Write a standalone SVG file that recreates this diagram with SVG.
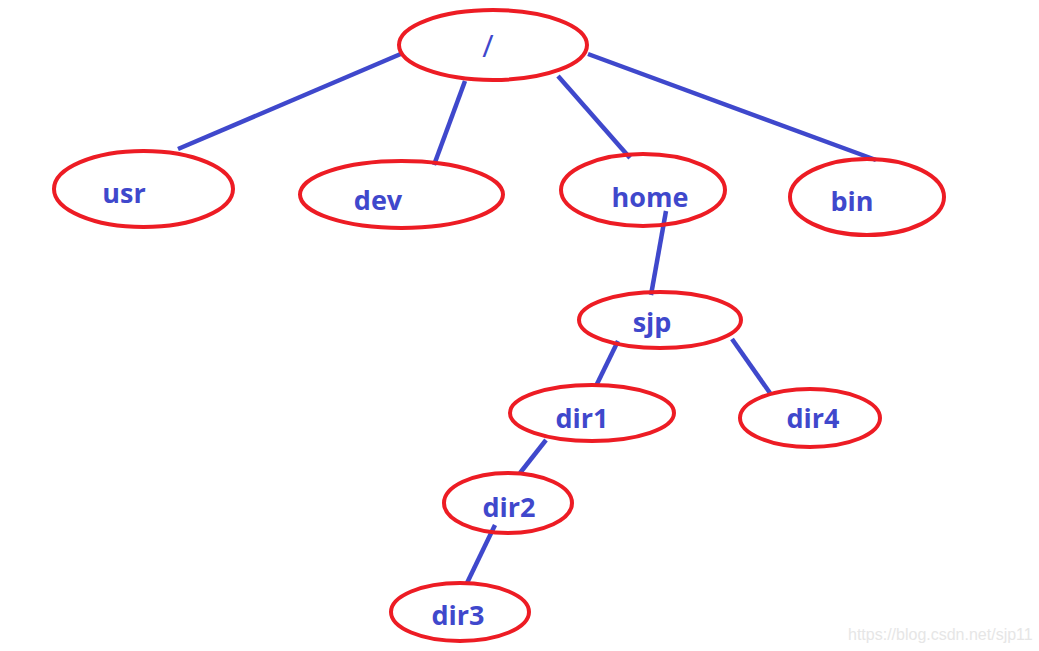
<svg xmlns="http://www.w3.org/2000/svg" width="1039" height="651" viewBox="0 0 1039 651">
<style>
.n{fill:none;stroke:#ED1C24;stroke-width:4}
.t{font-family:"Open Sans","Noto Sans","Liberation Sans",sans-serif;font-weight:bold;font-size:27px;fill:#3F48CC;text-anchor:middle}
.e line{stroke:#3F48CC;stroke-width:4.5;stroke-linecap:butt}
.w{font-family:"Liberation Sans",Arial,sans-serif;font-size:16px;fill:#e6e6e6}
</style>
<rect width="1039" height="651" fill="#ffffff"/>
<g id="connectors" class="e">
<line x1="403" y1="53" x2="178" y2="149"/>
<line x1="465" y1="81" x2="434" y2="165"/>
<line x1="558" y1="76" x2="630" y2="158"/>
<line x1="588" y1="54" x2="876" y2="160"/>
<line x1="666" y1="211" x2="651" y2="295"/>
<line x1="618" y1="341" x2="596" y2="386"/>
<line x1="732" y1="339" x2="770" y2="393"/>
<line x1="546" y1="440" x2="520" y2="473"/>
<line x1="495" y1="525" x2="467" y2="583"/>
</g>
<g id="root"><ellipse class="n" cx="493" cy="45" rx="94" ry="35"/><text class="t" x="488" y="57" style="font-weight:normal;font-size:31px">/</text></g>
<g id="usr"><ellipse class="n" cx="143.5" cy="189" rx="89.5" ry="38"/><text class="t" x="124" y="203">usr</text></g>
<g id="dev"><ellipse class="n" cx="401.5" cy="194.5" rx="101.5" ry="33.5"/><text class="t" x="378" y="210">dev</text></g>
<g id="home"><ellipse class="n" cx="643" cy="190" rx="82" ry="36"/><text class="t" x="650" y="207">home</text></g>
<g id="bin"><ellipse class="n" cx="867" cy="197" rx="77" ry="38"/><text class="t" x="852" y="211">bin</text></g>
<g id="sjp"><ellipse class="n" cx="660" cy="320" rx="81" ry="28"/><text class="t" x="652" y="332">sjp</text></g>
<g id="dir1"><ellipse class="n" cx="592" cy="413" rx="82" ry="28"/><text class="t" x="582" y="428">dir1</text></g>
<g id="dir4"><ellipse class="n" cx="810" cy="418" rx="70" ry="29"/><text class="t" x="813" y="428">dir4</text></g>
<g id="dir2"><ellipse class="n" cx="508" cy="503" rx="64" ry="30"/><text class="t" x="509" y="517">dir2</text></g>
<g id="dir3"><ellipse class="n" cx="460" cy="612" rx="69" ry="29"/><text class="t" x="458" y="625">dir3</text></g>
<text class="w" x="848" y="640">https://blog.csdn.net/sjp11</text>
</svg>
